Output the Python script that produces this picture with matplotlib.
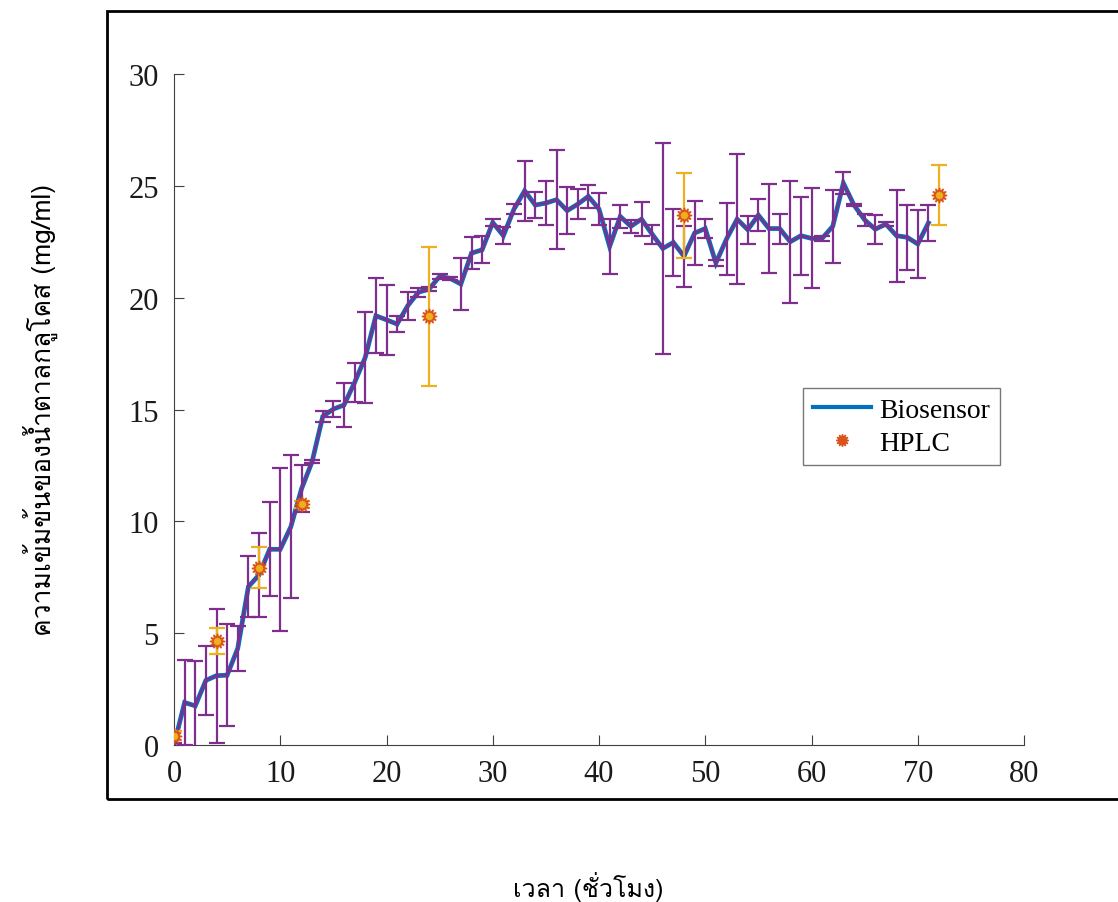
import matplotlib
matplotlib.use("Agg")
import matplotlib.pyplot as plt
from matplotlib import font_manager
from matplotlib.patches import Rectangle
from matplotlib.lines import Line2D

# ---------------- data ----------------
hours = list(range(0, 72))
biosensor = [0.0, 1.9, 1.75, 2.89, 3.1, 3.12, 4.32, 7.08, 7.6, 8.75,
             8.75, 9.76, 11.45, 12.67, 14.69, 15.02, 15.2, 16.21, 17.33, 19.19,
             19.01, 18.82, 19.64, 20.24, 20.38, 20.95, 20.86, 20.61, 21.99, 22.14,
             23.36, 22.77, 23.96, 24.78, 24.14, 24.23, 24.38, 23.89, 24.18, 24.53,
             23.96, 22.29, 23.63, 23.19, 23.51, 22.84, 22.2, 22.47, 21.85, 22.89,
             23.09, 21.55, 22.62, 23.51, 23.04, 23.69, 23.09, 23.09, 22.5, 22.77,
             22.65, 22.65, 23.19, 25.12, 24.14, 23.48, 23.06, 23.29, 22.77, 22.7,
             22.4, 23.34]
biosensor_err = [0.1, 1.9, 2.0, 1.55, 3.0, 2.27, 1.0, 1.37, 1.86, 2.1,
                 3.65, 3.2, 1.05, 0.05, 0.25, 0.35, 1.0, 0.86, 2.05, 1.68,
                 1.57, 0.37, 0.62, 0.2, 0.1, 0.1, 0.08, 1.15, 0.73, 0.6,
                 0.15, 0.37, 0.22, 1.34, 0.6, 1.0, 2.2, 1.04, 0.67, 0.5,
                 0.7, 1.23, 0.52, 0.28, 0.76, 0.42, 4.7, 1.49, 1.36, 1.45,
                 0.43, 0.15, 1.6, 2.9, 0.62, 0.7, 1.97, 0.67, 2.73, 1.75,
                 2.24, 0.1, 1.63, 0.48, 0.05, 0.28, 0.65, 0.1, 2.05, 1.46,
                 1.53, 0.81]
hplc_hours = [0, 4, 8, 12, 24, 48, 72]
hplc = [0.42, 4.65, 7.93, 10.76, 19.16, 23.69, 24.59]
hplc_err = [0.2, 0.6, 0.92, 0.15, 3.12, 1.9, 1.36]

xticks = [0, 10, 20, 30, 40, 50, 60, 70, 80]
yticks = [0, 5, 10, 15, 20, 25, 30]
xlabel = "เวลา (ชั่วโมง)"
ylabel = "ความเข้มข้นของน้ำตาลกลูโคส (mg/ml)"
legend_labels = ["Biosensor", "HPLC"]

# ---------------- fonts ----------------
def find_thai_font():
    try:
        from fontTools.ttLib import TTFont
    except Exception:
        return None
    found = []
    for f in font_manager.fontManager.ttflist:
        try:
            tt = TTFont(f.fname, fontNumber=0, lazy=True)
            cmap = tt.getBestCmap()
            if cmap and 0x0E27 in cmap and 0x0E49 in cmap:
                found.append(f.name)
        except Exception:
            pass
    for p in found:
        if 'Sans' in p or 'Loma' in p or 'Garuda' in p:
            return p
    return found[0] if found else None

thai_font = find_thai_font()
thai_family = [thai_font, 'DejaVu Sans'] if thai_font else ['DejaVu Sans']
serif = ['Liberation Serif', 'DejaVu Serif']

# ---------------- figure ----------------
W, H = 1118, 903
fig = plt.figure(figsize=(W / 100, H / 100), dpi=100)
ax = fig.add_axes([174 / W, 1 - 746 / H, (1024 - 174) / W, (746 - 75) / H])

blue = '#0072BD'
purple = '#7E2F8E'
yellow = '#EDB120'
orange = '#D95319'

ax.plot(hours, biosensor, color=blue, lw=3.4, zorder=2, solid_joinstyle='miter')
ax.errorbar(hours, biosensor, yerr=biosensor_err, color=purple, lw=1.6,
            elinewidth=1.6, capsize=5.5, capthick=1.6, zorder=3)
ax.errorbar(hplc_hours, hplc, yerr=hplc_err, fmt='none', ecolor=yellow,
            elinewidth=1.6, capsize=5.5, capthick=1.6, zorder=4)
star = (12, 1, 0)
ax.plot(hplc_hours, hplc, linestyle='none', marker=star, markersize=11,
        markerfacecolor=yellow, markeredgecolor=orange, markeredgewidth=1.0,
        zorder=5)

ax.set_xlim(0, 80)
ax.set_ylim(0, 30)
ax.set_xticks(xticks)
ax.set_yticks(yticks)
ax.set_xticklabels([str(t) for t in xticks], fontfamily=serif, fontsize=22,
                   color='#1a1a1a')
ax.set_yticklabels([str(t) for t in yticks], fontfamily=serif, fontsize=22,
                   color='#1a1a1a')
ax.tick_params(direction='in', length=7, width=0.8, color='#404040')
ax.tick_params(axis='y', pad=11)
ax.tick_params(axis='x', pad=10)
for s in ['top', 'right']:
    ax.spines[s].set_visible(False)
for s in ['left', 'bottom']:
    ax.spines[s].set_color('#404040')
    ax.spines[s].set_linewidth(0.8)

handles = [Line2D([], [], color=blue, lw=3),
           Line2D([], [], linestyle='none', marker=star, markersize=9,
                  markerfacecolor=orange, markeredgecolor=orange)]
leg = ax.legend(handles, legend_labels, loc='upper left',
                bbox_to_anchor=(0.74, 0.532), borderaxespad=0,
                prop={'family': serif, 'size': 20}, frameon=True,
                fancybox=False, handlelength=2.1, handletextpad=0.3,
                borderpad=0.35, labelspacing=0.25)
leg.get_frame().set_edgecolor('#555555')
leg.get_frame().set_linewidth(1.0)

# outer frame
fig.patches.append(Rectangle((107 / W, 1 - 800 / H), 1.2, (800 - 12) / H,
                             transform=fig.transFigure, fill=False,
                             edgecolor='black', lw=2.0, clip_on=False))

fig.text(588 / W, 1 - 887 / H, xlabel, ha='center', va='center',
         fontsize=18, family=thai_family)
fig.text(40 / W, 1 - 410 / H, ylabel, ha='center', va='center',
         rotation=90, fontsize=19, family=thai_family)

fig.savefig('out.png', dpi=100)
